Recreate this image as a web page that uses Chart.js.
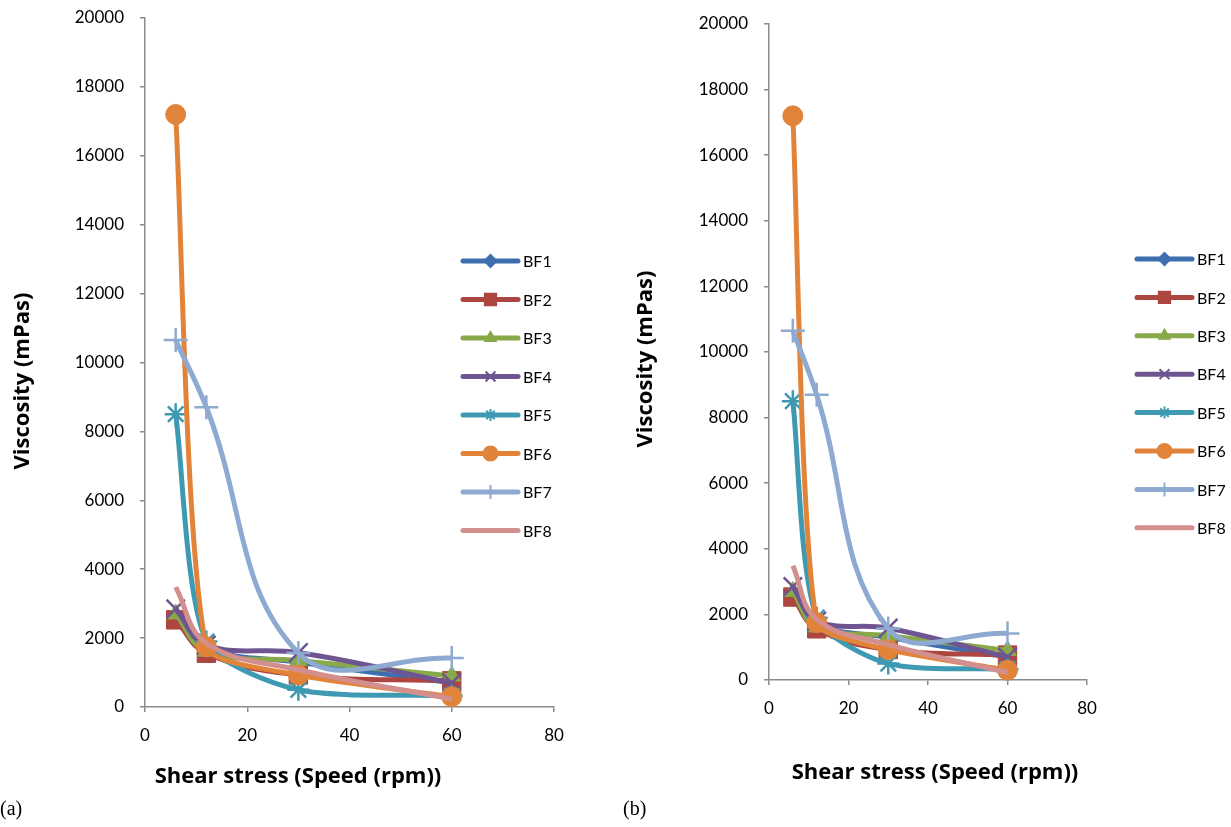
<!DOCTYPE html>
<html><head><meta charset="utf-8">
<script src="https://cdn.jsdelivr.net/npm/chart.js@4.4.0/dist/chart.umd.min.js"></script>
<style>
html,body{margin:0;padding:0;background:#fff;width:1231px;height:827px;overflow:hidden;position:relative}
canvas{position:absolute;top:0}
#a{left:0}
#b{left:615px}
.lab{position:absolute;font-family:"Liberation Serif","Times New Roman",serif;font-size:20px;top:797px;color:#000}
</style></head><body>
<canvas id="a" width="615" height="827" style="width:615px;height:827px"></canvas>
<canvas id="b" width="616" height="827" style="width:616px;height:827px"></canvas>
<div class="lab" style="left:0px">(a)</div>
<div class="lab" style="left:623px">(b)</div>
<script>
// ---- data ----
const speeds = [6, 12, 30, 60];
const seriesNames = ['BF1', 'BF2', 'BF3', 'BF4', 'BF5', 'BF6', 'BF7', 'BF8'];
const BF1 = [2600, 1700, 1300, 700];
const BF2 = [2530, 1560, 930, 760];
const BF3 = [2700, 1620, 1350, 900];
const BF4 = [2850, 1800, 1580, 700];
const BF5 = [8500, 1900, 500, 330];
const BF6 = [17200, 1750, 930, 300];
const BF7 = [10650, 8700, 1570, 1420];
const BF8 = [3480, 1850, 1080, 230];
const xTickValues = [0, 20, 40, 60, 80];
const yTickValues = [0, 2000, 4000, 6000, 8000, 10000, 12000, 14000, 16000, 18000, 20000];
const xTitle = 'Shear stress (Speed (rpm))';
const yTitle = 'Viscosity (mPas)';

// ---- styles ----
const seriesValues = [BF1, BF2, BF3, BF4, BF5, BF6, BF7, BF8];
const colors = ['#3F6EAE', '#AD4541', '#88A94A', '#6E5591', '#3E99B2', '#E1843A', '#8FAAD1', '#D38F8D'];
const markers = ['rectRot', 'rect', 'triangle', 'crossRot', 'star', 'circle', 'cross', false];
const radii = [9, 13, 10, 13, 11, 10, 12, 0];
const tensions = [0.4, 0.4, 0.4, 0.4, 0.25, 0.2, 0.4, 0.4];
const legendRadii = [6, 8, 6, 7, 6, 7, 7, 0];
const tickFont = {family: 'Lato, "Open Sans", sans-serif', size: 17};
const titleFontCss = 'bold 22px "Open Sans", Lato, sans-serif';
const legendFontCss = '16px Lato, "Open Sans", sans-serif';
const axisColor = '#8A8A8A';

function makeDatasets() {
  return seriesNames.map((name, i) => {
    const isCross = markers[i] === 'cross' || markers[i] === 'crossRot' || markers[i] === 'star';
    return {
      label: name,
      data: speeds.map((s, k) => ({x: s, y: seriesValues[i][k]})),
      borderColor: colors[i],
      backgroundColor: colors[i],
      borderWidth: 5,
      tension: tensions[i],
      pointStyle: markers[i],
      pointRadius: radii[i],
      pointHoverRadius: radii[i],
      pointBorderWidth: isCross ? 2.5 : 1,
      pointBackgroundColor: colors[i],
      pointBorderColor: colors[i],
      order: 8 - i,
      clip: false
    };
  });
}

function makeChart(id, g) {
  const overlay = {
    id: 'overlay',
    afterDraw(chart) {
      const ctx = chart.ctx;
      ctx.save();
      ctx.fillStyle = '#000';
      ctx.font = titleFontCss;
      ctx.textAlign = 'center';
      ctx.textBaseline = 'middle';
      ctx.fillText(xTitle, g.xTitleX, g.xTitleY);
      ctx.save();
      ctx.translate(g.yTitleX, g.yTitleY);
      ctx.rotate(-Math.PI / 2);
      ctx.fillText(yTitle, 0, 0);
      ctx.restore();
      ctx.font = legendFontCss;
      ctx.textAlign = 'left';
      chart.data.datasets.forEach((ds, i) => {
        const y = g.legY + i * g.legStep;
        ctx.strokeStyle = ds.borderColor;
        ctx.lineWidth = 5;
        ctx.lineCap = 'round';
        ctx.beginPath();
        ctx.moveTo(g.legX, y);
        ctx.lineTo(g.legX + 55, y);
        ctx.stroke();
        if (ds.pointStyle) {
          ctx.fillStyle = ds.backgroundColor;
          ctx.strokeStyle = ds.borderColor;
          ctx.lineWidth = 2;
          ctx.lineCap = 'butt';
          Chart.helpers.drawPoint(ctx, {pointStyle: ds.pointStyle, rotation: 0, radius: legendRadii[i], borderWidth: 2}, g.legX + 27.5, y);
        }
        ctx.fillStyle = '#000';
        ctx.fillText(ds.label, g.legX + 60, y + 1);
      });
      ctx.restore();
    }
  };
  return new Chart(document.getElementById(id), {
    type: 'line',
    data: {datasets: makeDatasets()},
    options: {
      responsive: false,
      animation: false,
      events: [],
      layout: {padding: {left: 0, top: g.top, right: g.right, bottom: g.bottom}},
      plugins: {legend: {display: false}, tooltip: {enabled: false}},
      scales: {
        x: {
          type: 'linear', min: 0, max: 80,
          afterBuildTicks: s => { s.ticks = xTickValues.map(v => ({value: v})); },
          afterFit: s => { s.height = 60; s.paddingLeft = 0; s.paddingRight = 0; },
          ticks: {font: tickFont, color: '#000', padding: 13, maxRotation: 0},
          grid: {display: true, drawOnChartArea: false, drawTicks: true, tickLength: 5, color: axisColor, lineWidth: 1.5},
          border: {display: true, color: axisColor, width: 1.5}
        },
        y: {
          type: 'linear', min: 0, max: 20000,
          afterBuildTicks: s => { s.ticks = yTickValues.map(v => ({value: v})); },
          afterFit: s => { s.width = g.left; s.paddingTop = 0; s.paddingBottom = 0; },
          ticks: {font: tickFont, color: '#000', padding: 16, callback: v => String(v)},
          grid: {display: true, drawOnChartArea: false, drawTicks: true, tickLength: 5, color: axisColor, lineWidth: 1.5},
          border: {display: true, color: axisColor, width: 1.5}
        }
      }
    },
    plugins: [overlay]
  });
}

makeChart('a', {left: 145, top: 18, right: 615 - 554, bottom: 827 - 707 - 60,
  legX: 463, legY: 261, legStep: 38.5, xTitleX: 298, xTitleY: 777, yTitleX: 23, yTitleY: 381});
makeChart('b', {left: 154, top: 24, right: 616 - 472, bottom: 827 - 680 - 60,
  legX: 1137 - 615, legY: 259, legStep: 38.4, xTitleX: 935 - 615, xTitleY: 773, yTitleX: 31, yTitleY: 359});
</script>
</body></html>
